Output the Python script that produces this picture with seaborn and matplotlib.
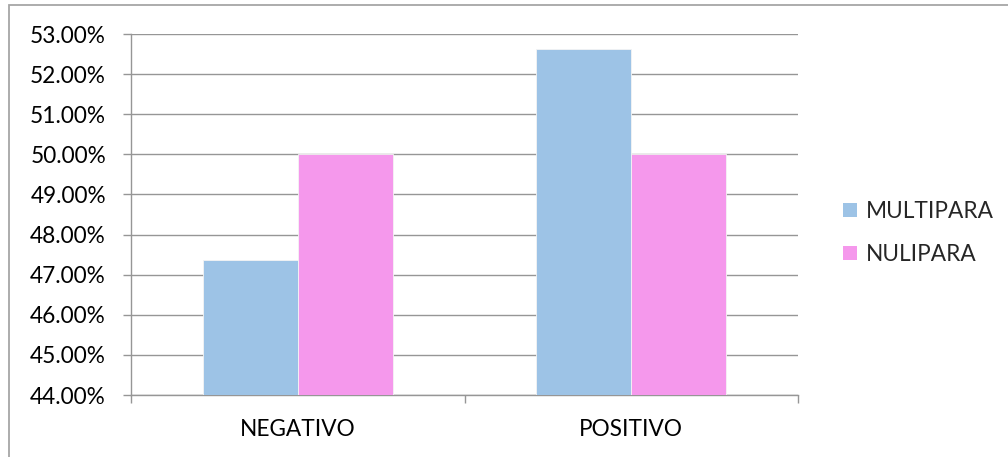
import matplotlib
matplotlib.use("Agg")
import matplotlib.pyplot as plt
from matplotlib.patches import Rectangle
from matplotlib.ticker import FuncFormatter, FixedLocator
import seaborn as sns
import pandas as pd

# Data
categories = ["NEGATIVO", "POSITIVO"]
series_names = ["MULTIPARA", "NULIPARA"]
multipara = [47.37, 52.63]
nulipara = [50.00, 50.00]
y_ticks = [44, 45, 46, 47, 48, 49, 50, 51, 52, 53]

df = pd.DataFrame({
    "categoria": categories * 2,
    "grupo": [series_names[0]] * 2 + [series_names[1]] * 2,
    "valor": multipara + nulipara,
})

sns.set_theme(style="white")
plt.rcParams["font.family"] = ["Lato", "DejaVu Sans"]

fig = plt.figure(figsize=(10.08, 4.57), dpi=100)
ax = fig.add_axes([131 / 1008, 1 - 395 / 457, (798 - 131) / 1008, (395 - 34) / 457])

palette = {"MULTIPARA": "#9DC3E6", "NULIPARA": "#F598EC"}
sns.barplot(data=df, x="categoria", y="valor", hue="grupo", order=categories,
            hue_order=series_names, palette=palette, width=0.57, gap=0,
            saturation=1, edgecolor="#F4F4F4", linewidth=0.6, ax=ax, zorder=3)

ax.set_ylim(44, 53)
ax.set_xlim(-0.5, 1.5)
ax.set_yticks(y_ticks)
ax.yaxis.set_major_formatter(FuncFormatter(lambda v, p: f"{v:.2f}%"))
ax.grid(axis="y", color="#969696", linewidth=1.0, zorder=0)
ax.set_axisbelow(True)

# category boundaries carry the tick marks, labels sit at the centres
ax.xaxis.set_major_locator(FixedLocator([-0.5, 0.5, 1.5]))
ax.xaxis.set_major_formatter(FuncFormatter(lambda v, p: ""))
ax.xaxis.set_minor_locator(FixedLocator([0, 1]))
ax.set_xticklabels(categories, minor=True)
ax.tick_params(axis="x", which="major", length=6, width=1.0, color="#969696",
               direction="out", bottom=True)
ax.tick_params(axis="x", which="minor", length=0, pad=17.5, labelsize=16.3,
               colors="black", bottom=True)
ax.tick_params(axis="y", length=6, width=1.0, color="#969696", direction="out",
               left=True, pad=12, labelsize=16.3, labelcolor="black")

for side in ["top", "right"]:
    ax.spines[side].set_visible(False)
for side in ["left", "bottom"]:
    ax.spines[side].set_color("#969696")
    ax.spines[side].set_linewidth(1.0)

ax.set_xlabel("")
ax.set_ylabel("")

leg = ax.legend(loc="center left", bbox_to_anchor=(832 / 1008, 1 - 233 / 457),
                bbox_transform=fig.transFigure, frameon=False, fontsize=16.3,
                handlelength=0.6, handleheight=0.6, handletextpad=0.4,
                labelspacing=0.95, borderpad=0)
for h in leg.legend_handles:
    h.set_edgecolor("none")

# chart frame
fig.patches.append(Rectangle((8.5 / 1008, -0.1), 1.2, 1.1 - 4.5 / 457,
                             transform=fig.transFigure, fill=False,
                             edgecolor="#A6A6A6", linewidth=1.3))

fig.savefig("out.png", dpi=100)
